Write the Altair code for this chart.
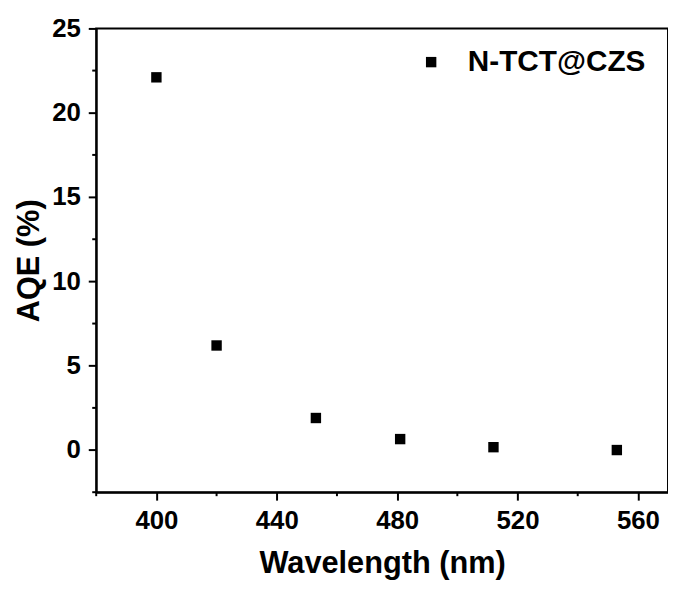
import altair as alt
import pandas as pd

# Data
wavelength = [400, 420, 453, 481, 512, 553]
aqe = [22.1, 6.2, 1.9, 0.65, 0.17, 0.0]
series_name = "N-TCT@CZS"

x_major = [400, 440, 480, 520, 560]
x_minor = [380, 420, 460, 500, 540]
y_major = [0, 5, 10, 15, 20, 25]
y_minor = [-2.5, 2.5, 7.5, 12.5, 17.5, 22.5]

FONT = "Liberation Sans"
W, H = 577, 468

df = pd.DataFrame({"wavelength": wavelength, "aqe": aqe,
                   "series": [series_name] * len(wavelength)})
xmin_df = pd.DataFrame({"wavelength": x_minor})
ymin_df = pd.DataFrame({"aqe": y_minor})

xs = alt.Scale(domain=[380, 570], nice=False, zero=False)
ys = alt.Scale(domain=[-2.5, 25], nice=False, zero=False)

x_axis = alt.Axis(values=x_major, titleBaseline="alphabetic",
                  titleY=81, labelPadding=8)
y_axis = alt.Axis(values=y_major, titleBaseline="alphabetic",
                  titleX=-58, labelPadding=8)

points = alt.Chart(df).mark_square(size=110, opacity=1).encode(
    x=alt.X("wavelength:Q", scale=xs, title="Wavelength (nm)", axis=x_axis),
    y=alt.Y("aqe:Q", scale=ys, title="AQE (%)", axis=y_axis),
    color=alt.Color("series:N", scale=alt.Scale(range=["#000000"]),
                    legend=alt.Legend(title=None, orient="none",
                                      legendX=323, legendY=19,
                                      symbolType="square", symbolSize=110,
                                      symbolStrokeWidth=0,
                                      labelFont=FONT, labelFontWeight="bold",
                                      labelFontSize=30, labelOffset=22,
                                      labelLimit=400,
                                      labelColor="#000000", padding=0)),
)

y_minor_ticks = alt.Chart(ymin_df).mark_rule(color="black", strokeWidth=2).encode(
    y=alt.Y("aqe:Q", scale=ys, title="AQE (%)", axis=y_axis),
    x=alt.value(-4), x2=alt.value(0),
)

x_minor_ticks = alt.Chart(xmin_df).mark_rule(color="black", strokeWidth=2).encode(
    x=alt.X("wavelength:Q", scale=xs, title="Wavelength (nm)", axis=x_axis),
    y=alt.value(H), y2=alt.value(H + 4),
)

chart = alt.layer(y_minor_ticks, x_minor_ticks, points).properties(
    width=W, height=H,
    autosize=alt.AutoSizeParams(type="none"),
    padding={"left": 89, "top": 18, "right": 0, "bottom": 88},
).configure_view(
    stroke="black", strokeWidth=2
).configure_axis(
    grid=False, domainColor="black", domainWidth=2,
    tickColor="black", tickWidth=2, tickSize=8,
    labelFont=FONT, labelFontWeight="bold", labelFontSize=26, labelColor="black",
    titleFont=FONT, titleFontWeight="bold", titleFontSize=31, titleColor="black",
)

chart.save("out.html", embed_options={"renderer": "svg", "actions": False})
